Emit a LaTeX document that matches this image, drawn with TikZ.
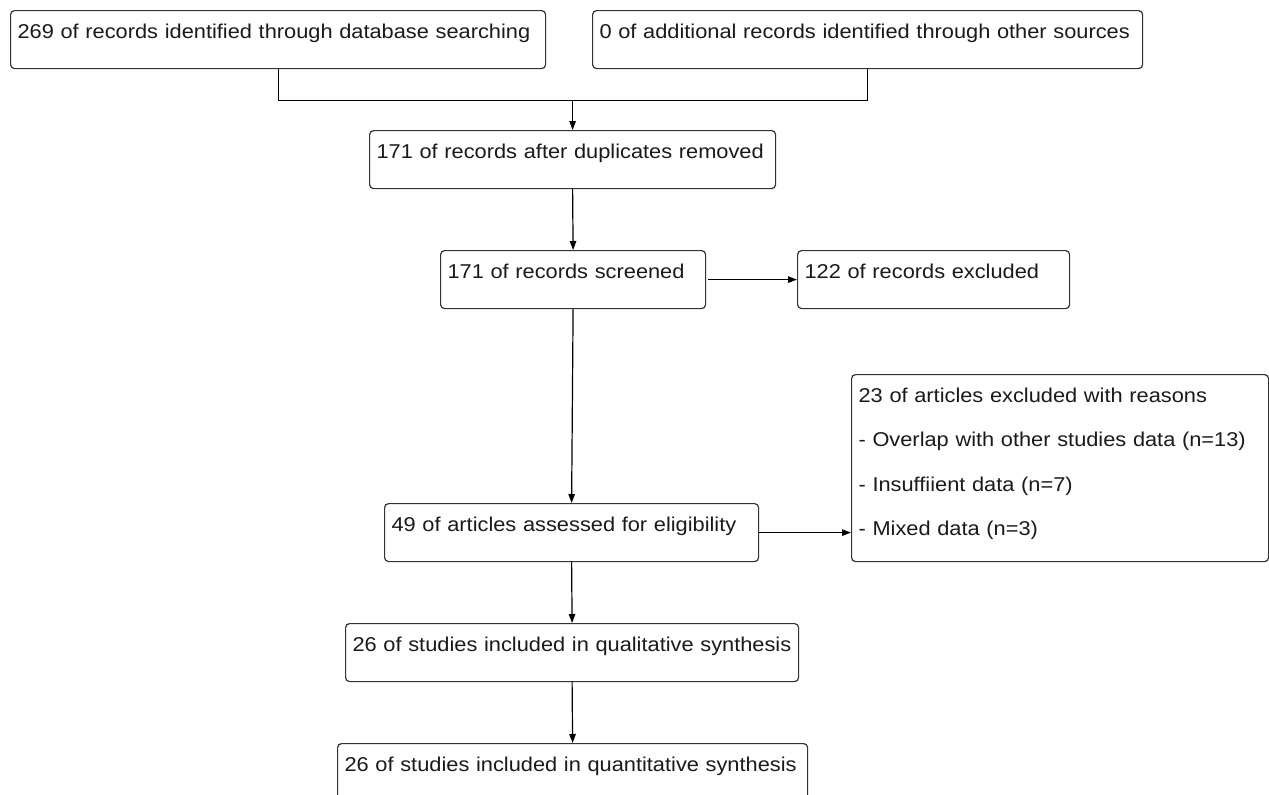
\documentclass[tikz,border=0pt]{standalone}
\usepackage{fontspec}
\setmainfont{Liberation Sans}[FakeStretch=1.09]
\usetikzlibrary{arrows.meta,calc}
\definecolor{boxc}{HTML}{333333}
\definecolor{txt}{HTML}{1A1A1A}
\begin{document}
\begin{tikzpicture}[x=1pt,y=-1pt]
\tikzset{
  box/.style={draw=boxc, line width=1.2pt, rounded corners=4pt, anchor=north west,
    inner xsep=7pt, inner ysep=0pt, text height=28pt, text depth=30pt,
    align=left, font=\fontsize{20}{24}\selectfont, text=txt},
  conn/.style={line width=1.2pt, draw=black},
  arr/.style={conn, -{Triangle[length=9pt,width=6.5pt]}}
}
\useasboundingbox (0,0) rectangle (1269,795);
\fill[white] (0,0) rectangle (1269,795);
\begin{scope}
\clip (0,0) rectangle (1269,795);
\node[box, text width=521pt] (A) at (10,10) {269 of records identified through database searching};
\node[box, text width=536pt] (B) at (592,10) {0 of additional records identified through other sources};
\node[box, text width=392pt] (C) at (369,130) {171 of records after duplicates removed};
\node[box, text width=251pt] (D) at (440,250) {171 of records screened};
\node[box, text width=258pt] (E) at (797,250) {122 of records excluded};
\node[box, text width=360pt] (F) at (384,503) {49 of articles assessed for eligibility};
\node[box, text width=403pt, text depth=159pt, font=\fontsize{20}{44.3}\selectfont] (G) at (851,374)
  {23 of articles excluded with reasons\\
   - Overlap with other studies data (n=13)\\
   - Insuffiient data (n=7)\\
   - Mixed data (n=3)};
\node[box, text width=439pt] (H) at (345,623) {26 of studies included in qualitative synthesis};
\node[box, text width=456pt] (I) at (337,743) {26 of studies included in quantitative synthesis};

\coordinate (jA) at ($(A.south)+(0,31)$);
\coordinate (jB) at (jA -| B.south);
\coordinate (jm) at (jA -| C.north);
\draw[conn] (A.south) -- (jA) -- (jB) -- (B.south);
\draw[arr] (jm) -- (C.north);
\draw[arr] (C.south) -- (D.north);
\draw[arr] ($(D.east)+(2,0)$) -- (E.west);
\draw[arr] (D.south) -- (F.north);
\draw[arr] (F.east) -- (F.east -| G.west);
\draw[arr] (F.south) -- (H.north);
\draw[arr] (H.south) -- (I.north);
\end{scope}
\end{tikzpicture}
\end{document}
